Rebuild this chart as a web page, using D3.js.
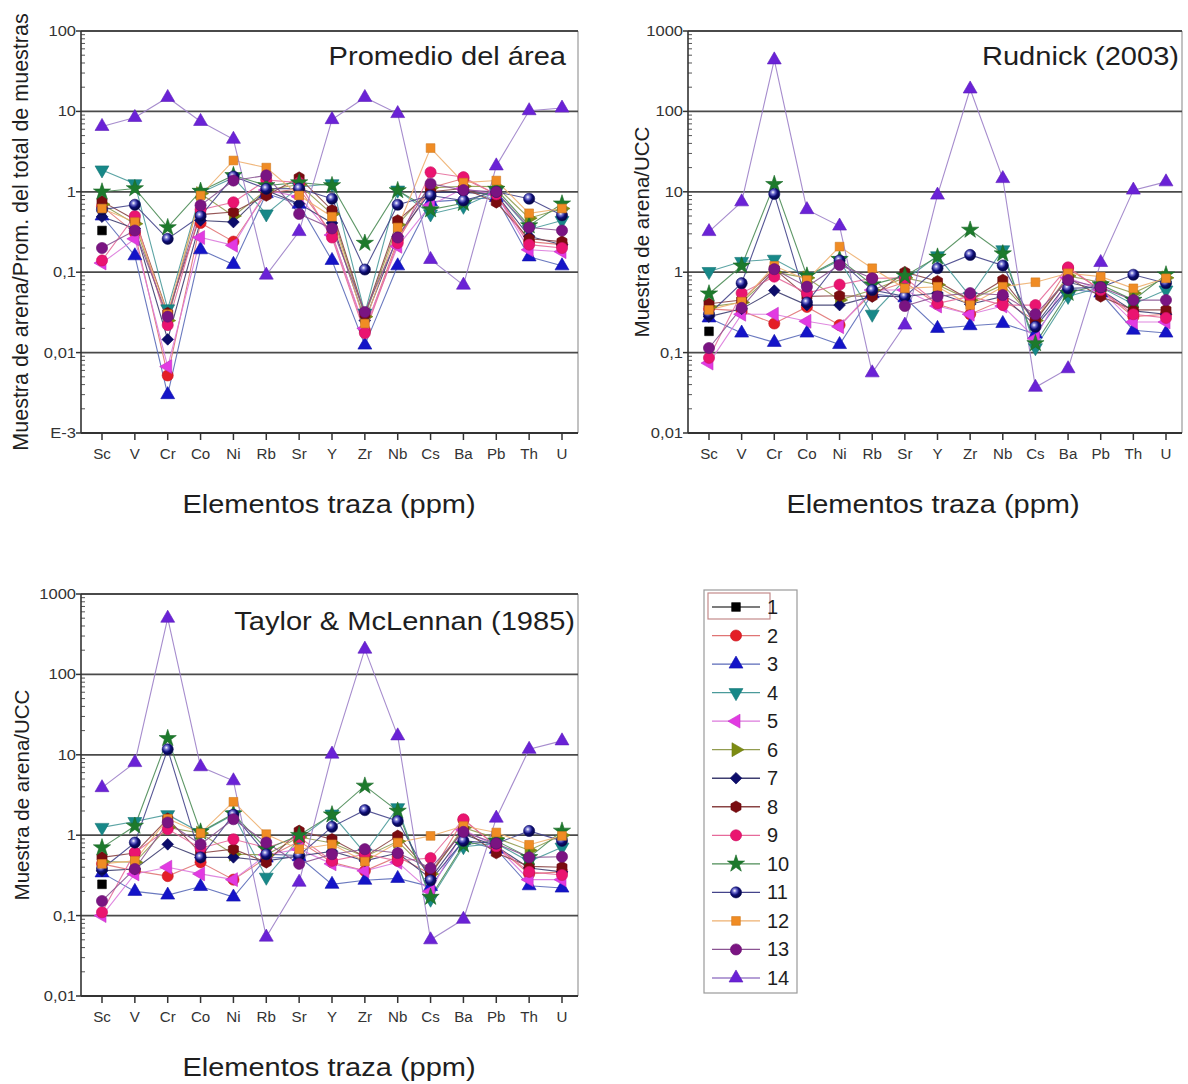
<!DOCTYPE html>
<html>
<head>
<meta charset="utf-8">
<script src="https://cdn.jsdelivr.net/npm/d3@7"></script>
<style>
  body { margin: 0; background: #fff; }
  svg { display: block; font-family: Arial, "Liberation Sans", Helvetica, sans-serif; }
</style>
</head>
<body>
<svg id="chart" width="1188" height="1084"></svg>
<script>
// Trace elements on the x axis
const elements = ["Sc", "V", "Cr", "Co", "Ni", "Rb", "Sr", "Y", "Zr", "Nb", "Cs", "Ba", "Pb", "Th", "U"];

// Sand samples
const samples = ["1", "2", "3", "4", "5", "6", "7", "8", "9", "10", "11", "12", "13", "14"];

// Y tick labels
const ticksPromedio = ["E-3", "0,01", "0,1", "1", "10", "100"];
const ticksUCC = ["0,01", "0,1", "1", "10", "100", "1000"];

// Sample / area average (one row per sample, columns follow `elements`)
const promedio = [
  [0.33, null, null, null, null, null, null, null, null, null, null, null, null, null, null],
  [0.66, 0.31, 0.0052, 0.41, 0.24, 0.96, 1.09, 0.30, 0.019, 0.25, 1.12, 1.46, 0.93, 0.24, 0.22],
  [0.50, 0.16, 0.0030, 0.19, 0.125, 0.95, 0.70, 0.14, 0.0124, 0.12, 0.75, 0.80, 0.85, 0.155, 0.12],
  [1.87, 1.26, 0.035, 0.97, 1.50, 0.53, 1.15, 1.26, 0.031, 1.05, 0.53, 0.66, 1.00, 0.34, 0.44],
  [0.13, 0.26, 0.0067, 0.27, 0.216, 1.05, 0.87, 0.29, 0.020, 0.21, 0.68, 1.10, 0.93, 0.19, 0.18],
  [0.70, 0.40, 0.025, 0.95, 0.50, 1.05, 1.23, 0.53, 0.028, 0.39, 1.12, 1.17, 1.16, 0.47, 0.62],
  [0.49, 0.35, 0.0146, 0.44, 0.42, 1.04, 0.71, 0.41, 0.025, 0.28, 0.99, 0.98, 0.93, 0.28, 0.22],
  [0.76, 0.45, 0.031, 0.52, 0.56, 0.90, 1.50, 0.59, 0.030, 0.44, 1.00, 1.10, 0.74, 0.26, 0.24],
  [0.14, 0.50, 0.022, 0.60, 0.74, 1.40, 1.30, 0.27, 0.0175, 0.23, 1.75, 1.52, 0.93, 0.22, 0.20],
  [1.00, 1.10, 0.36, 1.02, 1.60, 1.20, 1.30, 1.20, 0.23, 1.04, 0.60, 0.72, 1.08, 0.38, 0.71],
  [0.60, 0.69, 0.26, 0.50, 1.55, 1.09, 1.10, 0.82, 0.108, 0.69, 0.90, 0.78, 1.00, 0.82, 0.51],
  [0.62, 0.42, 0.030, 0.90, 2.45, 2.00, 0.90, 0.49, 0.023, 0.36, 3.50, 1.30, 1.38, 0.54, 0.62],
  [0.20, 0.33, 0.028, 0.68, 1.38, 1.60, 0.53, 0.35, 0.032, 0.27, 1.26, 1.05, 1.00, 0.36, 0.33],
  [6.5, 8.4, 14.9, 7.5, 4.5, 0.092, 0.32, 7.9, 14.9, 9.4, 0.144, 0.069, 2.1, 10.2, 11.0]
];

// Sample / UCC, Rudnick (2003)
const rudnick = [
  [0.184, null, null, null, null, null, null, null, null, null, null, null, null, null, null],
  [0.35, 0.33, 0.23, 0.37, 0.22, 0.55, 0.75, 0.40, 0.30, 0.45, 0.25, 1.12, 0.60, 0.28, 0.30],
  [0.27, 0.175, 0.134, 0.175, 0.126, 0.54, 0.48, 0.20, 0.216, 0.23, 0.17, 0.62, 0.55, 0.19, 0.175],
  [1.02, 1.36, 1.45, 0.88, 1.40, 0.30, 0.80, 1.60, 0.50, 1.90, 0.115, 0.50, 0.65, 0.40, 0.60],
  [0.074, 0.30, 0.30, 0.245, 0.21, 0.60, 0.60, 0.38, 0.30, 0.38, 0.15, 0.85, 0.60, 0.24, 0.24],
  [0.37, 0.42, 1.00, 0.85, 0.45, 0.60, 0.85, 0.70, 0.45, 0.70, 0.25, 0.90, 0.75, 0.55, 0.85],
  [0.28, 0.35, 0.59, 0.39, 0.39, 0.50, 0.50, 0.55, 0.40, 0.50, 0.22, 0.75, 0.60, 0.33, 0.30],
  [0.405, 0.45, 1.10, 0.50, 0.51, 0.50, 1.00, 0.77, 0.45, 0.80, 0.25, 0.85, 0.50, 0.34, 0.34],
  [0.086, 0.55, 0.88, 0.55, 0.70, 0.84, 0.85, 0.41, 0.50, 0.39, 0.39, 1.15, 0.60, 0.30, 0.27],
  [0.54, 1.20, 12.4, 0.90, 1.45, 0.70, 0.90, 1.55, 3.35, 1.70, 0.13, 0.55, 0.70, 0.45, 0.93],
  [0.30, 0.73, 9.4, 0.42, 1.40, 0.60, 0.50, 1.12, 1.64, 1.21, 0.21, 0.63, 0.65, 0.93, 0.73],
  [0.34, 0.43, 1.20, 0.80, 2.08, 1.12, 0.63, 0.66, 0.39, 0.66, 0.75, 0.97, 0.88, 0.63, 0.84],
  [0.114, 0.36, 1.09, 0.66, 1.23, 0.84, 0.38, 0.50, 0.55, 0.52, 0.30, 0.80, 0.65, 0.45, 0.45],
  [3.2, 7.5, 437, 6.0, 3.75, 0.056, 0.22, 9.1, 190, 14.6, 0.037, 0.063, 1.32, 10.5, 13.3]
];

// Sample / UCC, Taylor & McLennan (1985)
const taylor = [
  [0.245, null, null, null, null, null, null, null, null, null, null, null, null, null, null],
  [0.44, 0.36, 0.31, 0.46, 0.28, 0.52, 0.84, 0.46, 0.36, 0.54, 0.33, 1.55, 0.73, 0.33, 0.35],
  [0.34, 0.20, 0.18, 0.23, 0.17, 0.52, 0.54, 0.245, 0.275, 0.29, 0.23, 0.86, 0.67, 0.235, 0.22],
  [1.25, 1.48, 1.80, 1.08, 1.80, 0.30, 0.90, 1.83, 0.60, 2.20, 0.16, 0.72, 0.79, 0.47, 0.71],
  [0.10, 0.33, 0.40, 0.33, 0.28, 0.57, 0.67, 0.44, 0.36, 0.46, 0.20, 1.17, 0.73, 0.28, 0.28],
  [0.47, 0.46, 1.25, 1.06, 0.58, 0.57, 0.95, 0.80, 0.54, 0.84, 0.33, 1.24, 0.92, 0.65, 1.00],
  [0.36, 0.38, 0.77, 0.53, 0.53, 0.48, 0.55, 0.63, 0.48, 0.60, 0.29, 1.03, 0.73, 0.39, 0.35],
  [0.53, 0.60, 1.60, 0.60, 0.67, 0.46, 1.13, 0.89, 0.54, 0.98, 0.33, 1.17, 0.60, 0.41, 0.40],
  [0.11, 0.61, 1.19, 0.69, 0.89, 0.70, 0.95, 0.48, 0.58, 0.48, 0.52, 1.58, 0.73, 0.35, 0.32],
  [0.70, 1.30, 16.0, 1.10, 1.85, 0.67, 1.00, 1.80, 4.10, 2.00, 0.17, 0.76, 0.85, 0.53, 1.13],
  [0.38, 0.81, 11.7, 0.53, 1.80, 0.58, 0.56, 1.27, 2.05, 1.50, 0.275, 0.85, 0.79, 1.13, 0.85],
  [0.44, 0.48, 1.60, 1.06, 2.60, 1.03, 0.67, 0.77, 0.47, 0.81, 0.98, 1.30, 1.08, 0.76, 0.98],
  [0.152, 0.38, 1.44, 0.77, 1.58, 0.81, 0.44, 0.58, 0.67, 0.60, 0.39, 1.10, 0.79, 0.53, 0.54],
  [3.9, 8.0, 500, 7.1, 4.75, 0.054, 0.26, 10.2, 206, 17.2, 0.050, 0.090, 1.63, 11.7, 14.9]
];

// Marker colours, connecting-line colours and marker shapes per sample
const markerColors = ["#000000", "#e41e26", "#1414c8", "#178888", "#e23ae2", "#7d8c12", "#0c0c6a",
                      "#7a0c10", "#ea1470", "#1d7a2c", "#0e0e78", "#f08c24", "#7a1482", "#6a22d6"];
const lineColors = ["#505050", "#e07474", "#5a6ab8", "#4a9a9a", "#dc7adc", "#929c50", "#3e3e70",
                    "#8a4444", "#e66a9a", "#4c8c56", "#44448a", "#eeb070", "#8a5492", "#9c80c8"];
const markerShapes = ["square", "circle", "triangleUp", "triangleDown", "triangleLeft", "triangleRight",
                      "diamond", "hexagon", "circle", "star", "sphere", "square", "circle", "triangleUp"];

const svg = d3.select("#chart");

// Sphere shading for sample 11
const defs = svg.append("defs");
const grad = defs.append("radialGradient").attr("id", "sphere").attr("cx", "38%").attr("cy", "35%").attr("r", "65%");
grad.append("stop").attr("offset", "0%").attr("stop-color", "#ffffff");
grad.append("stop").attr("offset", "28%").attr("stop-color", "#6f6fd0");
grad.append("stop").attr("offset", "60%").attr("stop-color", "#0e0e78");
grad.append("stop").attr("offset", "100%").attr("stop-color", "#05053a");

const hexagon = {
  draw(ctx, size) {
    const r = Math.sqrt(size / 2.598);
    for (let i = 0; i < 6; i++) {
      const a = Math.PI / 3 * i + Math.PI / 6;
      const px = r * Math.cos(a), py = r * Math.sin(a);
      if (i === 0) ctx.moveTo(px, py); else ctx.lineTo(px, py);
    }
    ctx.closePath();
  }
};

function markerPath(shape) {
  switch (shape) {
    case "square": return d3.symbol(d3.symbolSquare, 76)();
    case "circle":
    case "sphere": return d3.symbol(d3.symbolCircle, 98)();
    case "diamond": return d3.symbol(d3.symbolSquare, 68)();
    case "star": return d3.symbol(d3.symbolStar, 92)();
    case "hexagon": return d3.symbol(hexagon, 88)();
    default: return d3.symbol(d3.symbolTriangle, 84)();
  }
}
function markerRotation(shape) {
  return { triangleDown: 180, triangleLeft: -90, triangleRight: 90, diamond: 45 }[shape] || 0;
}
function drawMarker(g, x, y, i) {
  const shape = markerShapes[i];
  const fill = shape === "sphere" ? "url(#sphere)" : markerColors[i];
  g.append("path")
    .attr("d", markerPath(shape))
    .attr("transform", `translate(${x},${y}) rotate(${markerRotation(shape)})`)
    .attr("fill", fill)
    .attr("stroke", d3.color(markerColors[i]).darker(0.4))
    .attr("stroke-width", 0.6);
}

// Horizontally widened text, as in the original figure
function wideText(parent, x, y, str, size, anchor, sx, color) {
  return parent.append("text")
    .attr("transform", `translate(${x},${y}) scale(${sx},1)`)
    .attr("text-anchor", anchor)
    .attr("fill", color || "#1e1e1e")
    .style("font-size", size + "px")
    .text(str);
}

const panels = [
  { data: promedio, title: "Promedio del área", ylabel: "Muestra de arena/Prom. del total de muestras",
    domain: [1e-3, 100], tickLabels: ticksPromedio, ylabelSize: 21.5,
    left: 81, right: 578, top: 31, bottom: 433, titleX: 566, titleY: 65, ylabelX: 28, xtitleX: 329 },
  { data: rudnick, title: "Rudnick (2003)", ylabel: "Muestra de arena/UCC",
    domain: [0.01, 1000], tickLabels: ticksUCC, ylabelSize: 20.5,
    left: 688, right: 1182, top: 31, bottom: 433, titleX: 1179, titleY: 65, ylabelX: 649, xtitleX: 933 },
  { data: taylor, title: "Taylor & McLennan (1985)", ylabel: "Muestra de arena/UCC",
    domain: [0.01, 1000], tickLabels: ticksUCC, ylabelSize: 20.5,
    left: 81, right: 578, top: 594, bottom: 996, titleX: 575, titleY: 630, ylabelX: 29, xtitleX: 329 }
];

panels.forEach(p => {
  const g = svg.append("g");
  const x = d3.scalePoint().domain(elements).range([p.left + 21, p.right - 16]);
  const y = d3.scaleLog().domain(p.domain).range([p.bottom, p.top]);
  const lo = Math.round(Math.log10(p.domain[0])), hi = Math.round(Math.log10(p.domain[1]));
  const decades = d3.range(lo, hi + 1).map(k => Math.pow(10, k));

  // Right frame
  g.append("line").attr("x1", p.right).attr("x2", p.right).attr("y1", p.top).attr("y2", p.bottom)
    .attr("stroke", "#a8a8a8").attr("stroke-width", 1.4);

  // Decade grid lines (the top one closes the frame)
  g.selectAll(".grid").data(decades.slice(1)).join("line")
    .attr("x1", p.left).attr("x2", p.right)
    .attr("y1", d => y(d)).attr("y2", d => y(d))
    .attr("stroke", "#4a4a4a").attr("stroke-width", 1.8);

  // Minor y ticks
  const minors = [];
  decades.slice(0, -1).forEach(d => { for (let m = 2; m <= 9; m++) minors.push(d * m); });
  g.selectAll(".minor").data(minors).join("line")
    .attr("x1", p.left).attr("x2", p.left + 4)
    .attr("y1", d => y(d)).attr("y2", d => y(d))
    .attr("stroke", "#555").attr("stroke-width", 1);

  // Major y ticks and labels
  g.selectAll(".major").data(decades).join("line")
    .attr("x1", p.left - 5).attr("x2", p.left)
    .attr("y1", d => y(d)).attr("y2", d => y(d))
    .attr("stroke", "#333").attr("stroke-width", 1.5);
  decades.forEach((d, i) => {
    wideText(g, p.left - 5, y(d) + 5, p.tickLabels[i], 14, "end", 1.18, "#333");
  });

  // Axis lines
  g.append("line").attr("x1", p.left).attr("x2", p.left).attr("y1", p.top).attr("y2", p.bottom)
    .attr("stroke", "#333").attr("stroke-width", 1.6);
  g.append("line").attr("x1", p.left).attr("x2", p.right).attr("y1", p.bottom).attr("y2", p.bottom)
    .attr("stroke", "#333").attr("stroke-width", 1.8);

  // X ticks and labels
  elements.forEach(e => {
    g.append("line").attr("x1", x(e)).attr("x2", x(e)).attr("y1", p.bottom).attr("y2", p.bottom + 7)
      .attr("stroke", "#333").attr("stroke-width", 1.5);
    wideText(g, x(e), p.bottom + 26, e, 14, "middle", 1.08, "#333");
  });

  // Connecting lines
  const line = d3.line()
    .defined(d => d != null)
    .x((d, i) => x(elements[i]))
    .y(d => y(d));
  p.data.forEach((row, i) => {
    g.append("path").attr("d", line(row)).attr("fill", "none")
      .attr("stroke", lineColors[i]).attr("stroke-width", 1.1).attr("stroke-opacity", 0.9);
  });

  // Markers
  p.data.forEach((row, i) => {
    row.forEach((v, j) => { if (v != null) drawMarker(g, x(elements[j]), y(v), i); });
  });

  // Titles
  wideText(g, p.titleX, p.titleY, p.title, 25.5, "end", 1.14, "#1e1e1e");
  wideText(g, p.xtitleX, p.bottom + 80, "Elementos traza (ppm)", 25, "middle", 1.16, "#1e1e1e");
  g.append("text")
    .attr("transform", `translate(${p.ylabelX},${(p.top + p.bottom) / 2}) rotate(-90)`)
    .attr("text-anchor", "middle")
    .attr("fill", "#1e1e1e")
    .style("font-size", p.ylabelSize + "px")
    .text(p.ylabel);
});

// Legend
const lg = svg.append("g");
lg.append("rect").attr("x", 704).attr("y", 590).attr("width", 93).attr("height", 403)
  .attr("fill", "#fff").attr("stroke", "#9a9a9a").attr("stroke-width", 1.2);
const ly = d3.scalePoint().domain(samples).range([607, 978]);
lg.append("rect").attr("x", 708).attr("y", 593).attr("width", 62).attr("height", 26)
  .attr("fill", "none").attr("stroke", "#c48a8a").attr("stroke-width", 1.2);
samples.forEach((s, i) => {
  const yy = ly(s);
  lg.append("line").attr("x1", 712).attr("x2", 760).attr("y1", yy).attr("y2", yy)
    .attr("stroke", lineColors[i]).attr("stroke-width", 1.3);
  drawMarker(lg, 736, yy, i);
  lg.append("text").attr("x", 767).attr("y", yy + 7).attr("fill", "#1e1e1e")
    .style("font-size", "20px").text(s);
});
</script>
</body>
</html>
